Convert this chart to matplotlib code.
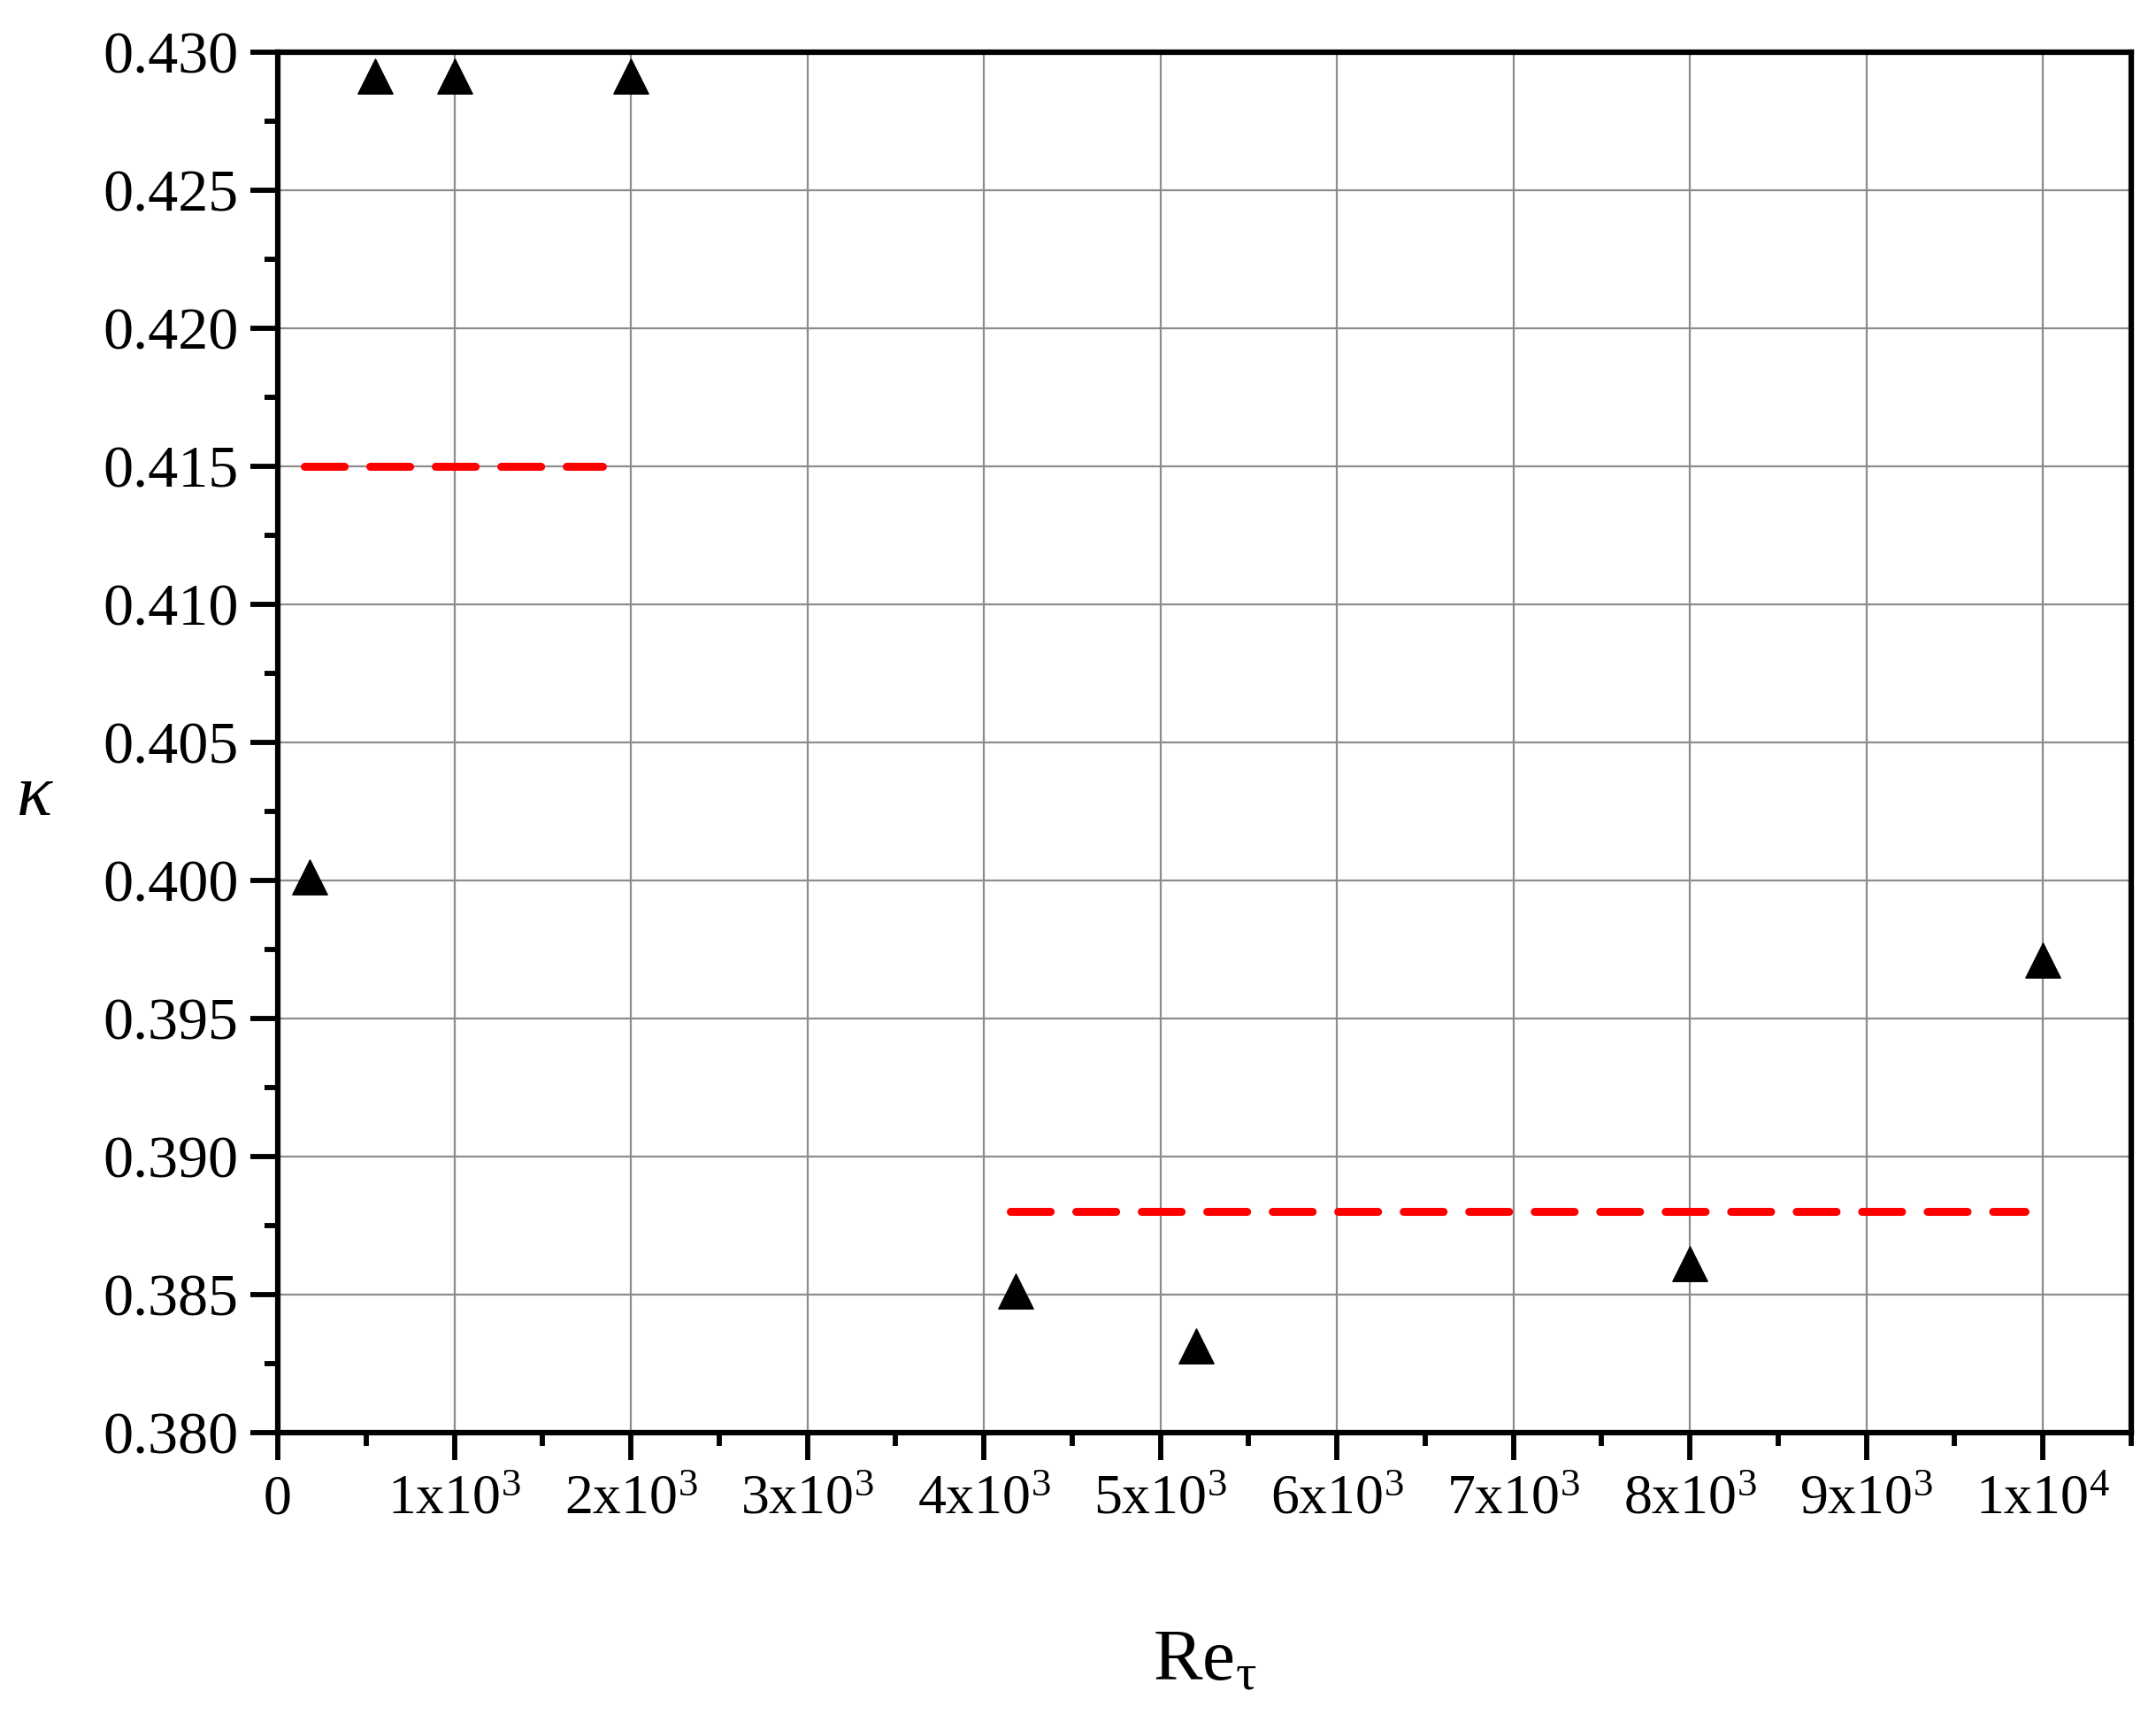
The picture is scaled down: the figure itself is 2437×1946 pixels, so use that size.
import matplotlib
matplotlib.use("Agg")
import matplotlib.pyplot as plt
from matplotlib.ticker import MultipleLocator, FixedLocator
from matplotlib.path import Path

plt.rcParams['font.family'] = ['Liberation Serif', 'DejaVu Serif']
plt.rcParams['mathtext.fontset'] = 'custom'
plt.rcParams['mathtext.rm'] = 'Liberation Serif'
plt.rcParams['mathtext.it'] = 'Liberation Serif:italic'

# Data
re_tau = [180, 550, 1000, 2000, 4179, 5200, 8000, 10000]
kappa = [0.400, 0.429, 0.429, 0.429, 0.385, 0.383, 0.386, 0.397]

mean_low_x = [150, 1840]
mean_low_y = [0.415, 0.415]
mean_high_x = [4150, 9900]
mean_high_y = [0.388, 0.388]

x_ticks = [0, 1000, 2000, 3000, 4000, 5000, 6000, 7000, 8000, 9000, 10000]
x_tick_labels = ['0', '1x10$^{3}$', '2x10$^{3}$', '3x10$^{3}$', '4x10$^{3}$',
                 '5x10$^{3}$', '6x10$^{3}$', '7x10$^{3}$', '8x10$^{3}$',
                 '9x10$^{3}$', '1x10$^{4}$']
y_ticks = [0.380, 0.385, 0.390, 0.395, 0.400, 0.405, 0.410, 0.415, 0.420, 0.425, 0.430]
y_tick_labels = ['%.3f' % v for v in y_ticks]

# triangle marker, slightly raised relative to its anchor (as in the original)
tri = Path([(0, 1.2), (-1, -0.8), (1, -0.8), (0, 1.2)],
           [Path.MOVETO, Path.LINETO, Path.LINETO, Path.CLOSEPOLY])

fig = plt.figure(figsize=(24.37, 19.46), dpi=100)
ax = fig.add_axes([314/2437, 1 - 1619/1946, (2409-314)/2437, (1619-59)/1946])

ax.plot(mean_low_x, mean_low_y, color='#ff0000', lw=6.5, ls=(0, (5, 3.2)),
        dash_capstyle='round', zorder=3)
ax.plot(mean_high_x, mean_high_y, color='#ff0000', lw=6.5, ls=(0, (5, 3.2)),
        dash_capstyle='round', zorder=3)
ax.plot(re_tau, kappa, ls='none', marker=tri, ms=34, color='black', zorder=4,
        clip_on=False)

ax.set_xlim(0, 10500)
ax.set_ylim(0.380, 0.430)
ax.xaxis.set_major_locator(FixedLocator(x_ticks))
ax.set_xticklabels(x_tick_labels)
ax.xaxis.set_minor_locator(MultipleLocator(500))
ax.yaxis.set_major_locator(FixedLocator(y_ticks))
ax.set_yticklabels(y_tick_labels)
ax.yaxis.set_minor_locator(MultipleLocator(0.0025))

ax.grid(True, which='major', color='#8c8c8c', lw=1.6, zorder=0)
ax.set_axisbelow(True)

for s in ax.spines.values():
    s.set_linewidth(4.5)
ax.tick_params(which='major', direction='out', length=22, width=4.2,
               top=False, right=False)
ax.tick_params(which='minor', direction='out', length=11, width=4.2,
               top=False, right=False)
ax.tick_params(axis='x', which='major', pad=12, labelsize=46)
ax.tick_params(axis='y', which='major', pad=10, labelsize=49)

ax.set_xlabel('Re$_{\\mathrm{τ}}$', fontsize=60, labelpad=84)
ax.set_ylabel(r'$\mathit{\kappa}$', fontsize=60, rotation=0, va='center', ha='center')
ax.yaxis.set_label_coords(-0.131, 0.46)

fig.savefig('out.png', dpi=100, facecolor='white')
